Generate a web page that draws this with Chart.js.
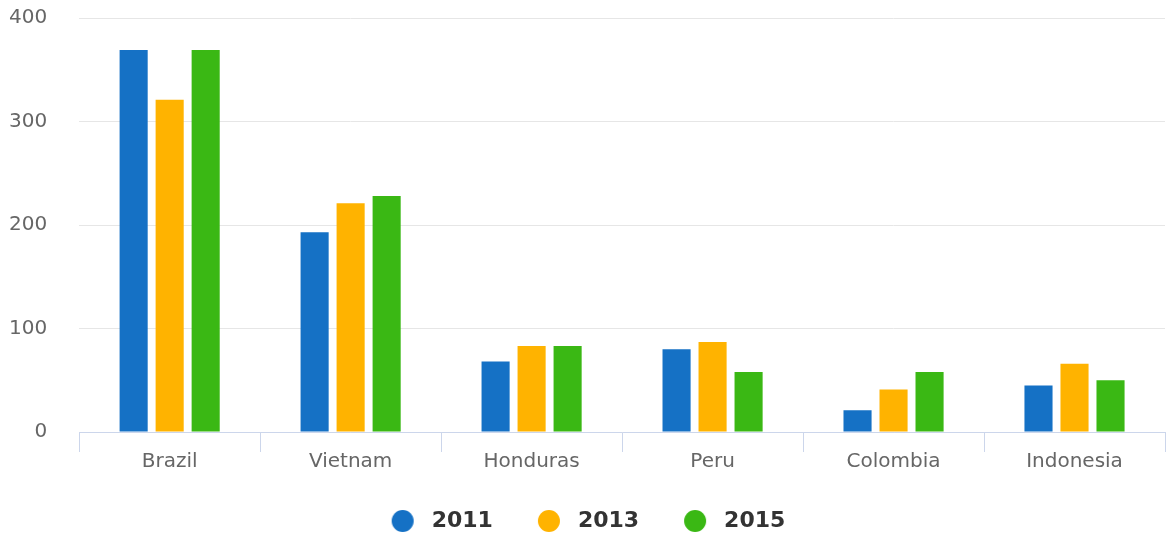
<!DOCTYPE html>
<html>
<head>
<meta charset="utf-8">
<script src="https://cdn.jsdelivr.net/npm/chart.js@4"></script>
<style>
  html, body { margin: 0; padding: 0; background: #fff; }
  .chart-box { width: 1168px; height: 542px; position: relative; }
</style>
</head>
<body>
<div class="chart-box">
  <canvas id="chart-paises"></canvas>
</div>
<script>
// =============================
// DATOS
// =============================
const paises = ["Brazil", "Vietnam", "Honduras", "Peru", "Colombia", "Indonesia"];
const anios = ["2011", "2013", "2015"];

const valores2011 = [369, 193, 68, 80, 21, 45];
const valores2013 = [321, 221, 83, 87, 41, 66];
const valores2015 = [369, 228, 83, 58, 58, 50];

const yTicks = [0, 100, 200, 300, 400];

const colores = ["#1571c5", "#ffb300", "#3ab814"];

// =============================
// UTILIDADES
// =============================
// circulito para la leyenda (canvas, asi se puede separar del texto)
function puntoLeyenda(color) {
  const c = document.createElement("canvas");
  c.width = 24;
  c.height = 24;
  const ctx = c.getContext("2d");
  ctx.fillStyle = color;
  ctx.beginPath();
  ctx.arc(12, 12, 11, 0, Math.PI * 2);
  ctx.fill();
  return c;
}

// =============================
// GRAFICO
// =============================
const series = [valores2011, valores2013, valores2015];

new Chart(document.getElementById("chart-paises"), {
  type: "bar",
  data: {
    labels: paises,
    datasets: series.map((valores, i) => ({
      label: anios[i],
      data: valores,
      backgroundColor: colores[i],
      borderWidth: 0,
      pointStyle: puntoLeyenda(colores[i]),
      categoryPercentage: 0.597,
      barPercentage: 0.78
    }))
  },
  options: {
    responsive: true,
    maintainAspectRatio: false,
    animation: false,
    layout: {
      padding: { top: 18, right: 3, left: 5, bottom: 0 }
    },
    plugins: {
      tooltip: { enabled: false },
      legend: {
        position: "bottom",
        labels: {
          usePointStyle: true,
          pointStyleWidth: 36,
          boxHeight: 16,
          padding: 38,
          color: "#333333",
          font: { family: "DejaVu Sans", size: 22, weight: "bold" }
        }
      }
    },
    scales: {
      x: {
        grid: {
          drawOnChartArea: false,
          drawTicks: true,
          tickLength: 20,
          color: "#ccd6eb"
        },
        border: { display: true, color: "#ccd6eb" },
        ticks: {
          color: "#666666",
          padding: 0,
          font: { family: "DejaVu Sans", size: 20, lineHeight: 1 }
        }
      },
      y: {
        min: 0,
        max: yTicks[yTicks.length - 1],
        afterBuildTicks: axis => {
          axis.ticks = yTicks.map(v => ({ value: v }));
        },
        grid: {
          color: "#e6e6e6",
          drawTicks: true,
          tickLength: 28,
          tickColor: "rgba(0,0,0,0)"
        },
        border: { display: false },
        ticks: {
          color: "#666666",
          padding: 4,
          font: { family: "DejaVu Sans", size: 20 }
        }
      }
    }
  }
});
</script>
</body>
</html>
